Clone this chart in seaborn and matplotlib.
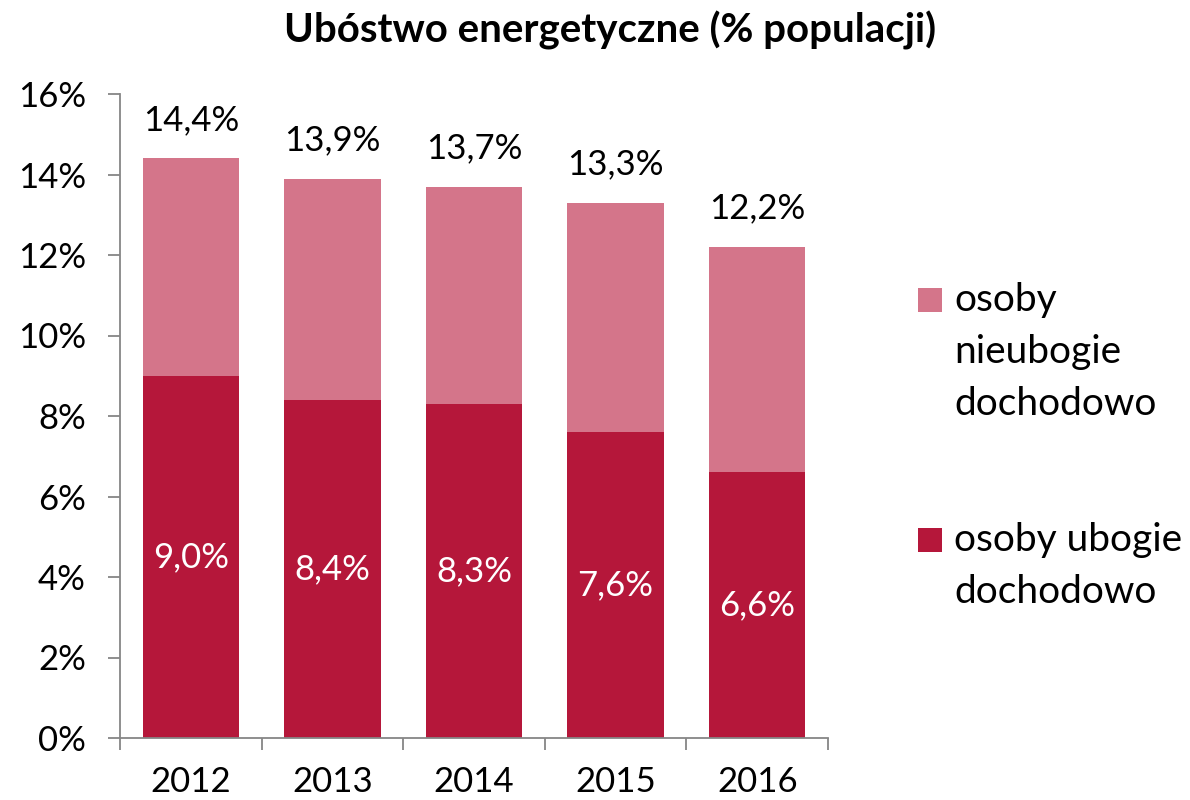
import numpy as np
import pandas as pd
import matplotlib
matplotlib.use('Agg')
import matplotlib.pyplot as plt
import seaborn as sns
from matplotlib.patches import Rectangle
from matplotlib.ticker import FuncFormatter, FixedLocator

years = ['2012', '2013', '2014', '2015', '2016']
ubodzy = [9.0, 8.4, 8.3, 7.6, 6.6]      # osoby ubogie dochodowo
razem = [14.4, 13.9, 13.7, 13.3, 12.2]  # ubóstwo energetyczne ogółem

c_light = '#D4758A'
c_dark = '#B5173A'
c_axis = '#868686'

df = pd.DataFrame({'rok': years, 'ubodzy': ubodzy, 'razem': razem})

sns.set_style('white')
plt.rcParams['font.family'] = ['Lato', 'DejaVu Sans']
plt.rcParams['text.color'] = 'black'
plt.rcParams['xtick.labelcolor'] = 'black'
plt.rcParams['ytick.labelcolor'] = 'black'

fig = plt.figure(figsize=(11.9, 8), dpi=100)
ax = fig.add_axes([0.1008, 0.0775, 0.595, 0.805])

# full bar (pink) first, then the poor part (dark) on top of it
sns.barplot(data=df, x='rok', y='razem', color=c_light, saturation=1, width=0.68, linewidth=0, ax=ax)
sns.barplot(data=df, x='rok', y='ubodzy', color=c_dark, saturation=1, width=0.68, linewidth=0, ax=ax)

fmt = lambda v: f'{v:.1f}%'.replace('.', ',')
ax.bar_label(ax.containers[0], labels=[fmt(v) for v in razem], padding=16, fontsize=25, color='black')
ax.bar_label(ax.containers[1], labels=[fmt(v) for v in ubodzy], label_type='center', fontsize=25, color='white')

ax.set_ylim(0, 16)
ax.set_xlim(-0.5, 4.5)
ax.set_yticks(np.arange(0, 17, 2))
ax.yaxis.set_major_formatter(FuncFormatter(lambda v, p: f'{int(v)}%'))
ax.set_xlabel('')
ax.set_ylabel('')

ax.xaxis.set_minor_locator(FixedLocator(np.arange(-0.5, 5, 1)))
ax.tick_params(axis='x', which='major', length=0, pad=20, labelsize=25, labelcolor='black')
ax.tick_params(axis='x', which='minor', length=8.5, width=1.3, color=c_axis, direction='out', bottom=True)
ax.tick_params(axis='y', which='major', length=8.5, width=1.3, color=c_axis, direction='out', left=True,
               labelsize=25, pad=16, labelcolor='black')

for s in ['top', 'right']:
    ax.spines[s].set_visible(False)
for s in ['left', 'bottom']:
    ax.spines[s].set_color(c_axis)
    ax.spines[s].set_linewidth(1.3)

fig.text(0.513, 0.962, 'Ubóstwo energetyczne (% populacji)', fontsize=29, fontweight='bold',
         ha='center', va='center', color='black')

# legend: square next to the first line of each wrapped label
W, H = 1190.0, 800.0
entries = [(c_light, ['osoby', 'nieubogie', 'dochodowo'], 300),
           (c_dark, ['osoby ubogie', 'dochodowo'], 540)]
for col, lines, y0 in entries:
    fig.patches.append(Rectangle((918 / W, 1 - (y0 + 12) / H), 24 / W, 24 / H,
                                 facecolor=col, edgecolor='none', transform=fig.transFigure))
    for i, line in enumerate(lines):
        fig.text(954 / W, 1 - (y0 + 52 * i) / H, line, fontsize=28, ha='left', va='center', color='black')

fig.savefig('out.png', dpi=100)
